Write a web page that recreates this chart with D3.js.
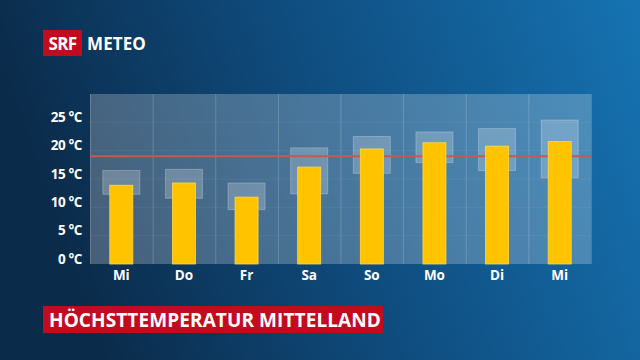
<!DOCTYPE html>
<html>
<head>
<meta charset="utf-8">
<script src="https://cdn.jsdelivr.net/npm/d3@7"></script>
<style>
  body { margin: 0; background: #0d3556; }
  svg text { font-family: "Open Sans", "DejaVu Sans", sans-serif; font-weight: 700; fill: #fff; }
</style>
</head>
<body>
<div id="chart"></div>
<script>
// weekdays shown on the x axis
var days = ["Mi", "Do", "Fr", "Sa", "So", "Mo", "Di", "Mi"];
// forecast max temperature (yellow bars)
var maxTemp = [13.9, 14.3, 11.8, 17.1, 20.3, 21.4, 20.8, 21.6];
// uncertainty range (light boxes)
var rangeLow = [12.3, 11.6, 9.6, 12.4, 16.0, 17.9, 16.5, 15.2];
var rangeHigh = [16.5, 16.7, 14.3, 20.5, 22.5, 23.3, 23.9, 25.4];
// long term average (red line)
var normalTemp = 19;
var yTicks = [0, 5, 10, 15, 20, 25];

var svgWidth = 640;
var svgHeight = 360;

var svg = d3.select("#chart")
  .append("svg")
  .attr("width", svgWidth)
  .attr("height", svgHeight);

var defs = svg.append("defs");
var grad = defs.append("linearGradient")
  .attr("id", "bg")
  .attr("x1", "0%").attr("y1", "20%")
  .attr("x2", "100%").attr("y2", "0%");
grad.append("stop").attr("offset", "0%").attr("stop-color", "#0b2b4a");
grad.append("stop").attr("offset", "45%").attr("stop-color", "#0f4c7e");
grad.append("stop").attr("offset", "100%").attr("stop-color", "#1673b2");

svg.append("rect")
  .attr("width", svgWidth)
  .attr("height", svgHeight)
  .attr("fill", "url(#bg)");

// logo
svg.append("rect")
  .attr("x", 43).attr("y", 30)
  .attr("width", 39).attr("height", 26)
  .attr("fill", "#c40a1f");
svg.append("text")
  .attr("x", 62.5).attr("y", 50)
  .attr("text-anchor", "middle")
  .style("font-size", "17px")
  .style("letter-spacing", "-0.6px")
  .text("SRF");
svg.append("text")
  .attr("x", 87).attr("y", 50)
  .style("font-size", "17px")
  .style("letter-spacing", "0.1px")
  .text("METEO");

var plot = { left: 90, right: 591, top: 94, bottom: 264 };

var x = d3.scaleBand()
  .domain(d3.range(days.length))
  .range([plot.left, plot.right]);

var y = d3.scaleLinear()
  .domain([0, 30])
  .range([plot.bottom, plot.top]);

// plot backdrop
svg.append("rect")
  .attr("x", plot.left).attr("y", plot.top)
  .attr("width", plot.right - plot.left)
  .attr("height", plot.bottom - plot.top)
  .attr("fill", "#ffffff")
  .attr("fill-opacity", 0.24);

// horizontal grid
svg.append("g")
  .selectAll("line")
  .data(yTicks.slice(1))
  .join("line")
  .attr("x1", plot.left).attr("x2", plot.right)
  .attr("y1", d => y(d)).attr("y2", d => y(d))
  .attr("stroke", "#ffffff")
  .attr("stroke-opacity", 0.06);

// vertical column separators
svg.append("g")
  .selectAll("line")
  .data(d3.range(days.length + 1))
  .join("line")
  .attr("x1", d => (d < days.length ? x(d) : plot.right) + 0.5)
  .attr("x2", d => (d < days.length ? x(d) : plot.right) + 0.5)
  .attr("y1", plot.top).attr("y2", plot.bottom)
  .attr("stroke", "#ffffff")
  .attr("stroke-opacity", 0.18);

var boxW = 37;
var barW = 23;

// range boxes
svg.append("g")
  .selectAll("rect")
  .data(days)
  .join("rect")
  .attr("x", (d, i) => x(i) + x.bandwidth() / 2 - boxW / 2)
  .attr("y", (d, i) => y(rangeHigh[i]))
  .attr("width", boxW)
  .attr("height", (d, i) => y(rangeLow[i]) - y(rangeHigh[i]))
  .attr("fill", "#ffffff")
  .attr("fill-opacity", 0.22)
  .attr("stroke", "#ffffff")
  .attr("stroke-opacity", 0.25);

// normal line
svg.append("line")
  .attr("x1", plot.left).attr("x2", plot.right)
  .attr("y1", y(normalTemp)).attr("y2", y(normalTemp))
  .attr("stroke", "#c65a4e")
  .attr("stroke-width", 2);

// bars
svg.append("g")
  .selectAll("rect")
  .data(maxTemp)
  .join("rect")
  .attr("x", (d, i) => x(i) + x.bandwidth() / 2 - barW / 2)
  .attr("y", d => y(d))
  .attr("width", barW)
  .attr("height", d => y(0) - y(d))
  .attr("fill", "#ffc300")
  .attr("stroke", "#ffd84a")
  .attr("stroke-width", 0.8);

// axes
var leftAxis = d3.axisLeft(y).tickValues(yTicks).tickSize(0).tickPadding(8)
  .tickFormat(d => d + " °C");
var yAxisG = svg.append("g")
  .attr("transform", `translate(${plot.left}, 0)`)
  .call(leftAxis);
yAxisG.select(".domain").remove();
yAxisG.selectAll("text")
  .attr("dy", "-0.05em")
  .style("font-size", "13.5px")
  .style("letter-spacing", "-0.4px")
  .attr("fill", "#fff");

var bottomAxis = d3.axisBottom(x).tickSize(0).tickPadding(6)
  .tickFormat(i => days[i]);
var xAxisG = svg.append("g")
  .attr("transform", `translate(0, ${plot.bottom})`)
  .call(bottomAxis);
xAxisG.select(".domain").remove();
xAxisG.selectAll("text")
  .style("font-size", "13.5px")
  .attr("fill", "#fff");

// title banner
svg.append("rect")
  .attr("x", 43).attr("y", 306)
  .attr("width", 340).attr("height", 27)
  .attr("fill", "#c40a1f");
svg.append("text")
  .attr("x", 49).attr("y", 326.5)
  .style("font-size", "19px")
  .style("letter-spacing", "0.1px")
  .text("HÖCHSTTEMPERATUR MITTELLAND");
</script>
</body>
</html>
